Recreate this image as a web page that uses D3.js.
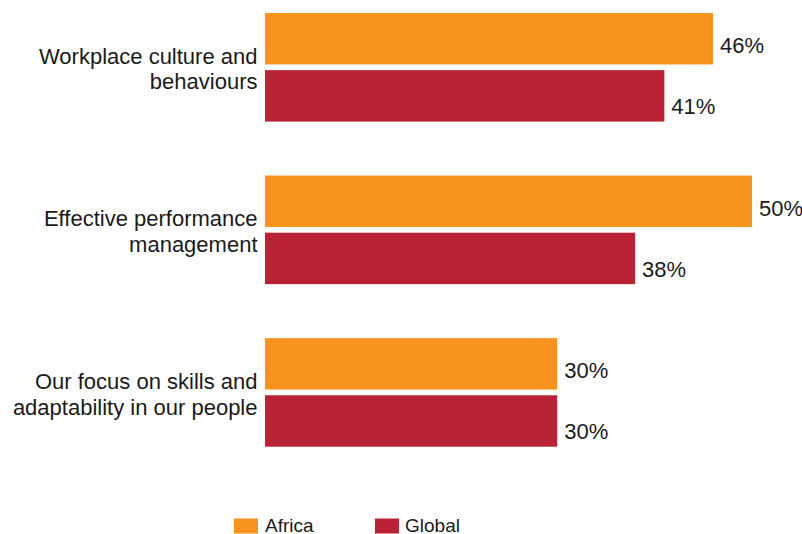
<!DOCTYPE html>
<html>
<head>
<meta charset="utf-8">
<script src="https://cdn.jsdelivr.net/npm/d3@7"></script>
<style>
  html, body { margin: 0; padding: 0; background: #ffffff; }
  svg { display: block; font-family: "Liberation Sans", Arial, Helvetica, sans-serif; }
</style>
</head>
<body>
<svg id="chart" width="802" height="534"></svg>
<script>
// Survey categories (each label split over two lines)
const categories = [
  "Workplace culture and behaviours",
  "Effective performance management",
  "Our focus on skills and adaptability in our people"
];
const categoryLines = [
  ["Workplace culture and", "behaviours"],
  ["Effective performance", "management"],
  ["Our focus on skills and", "adaptability in our people"]
];
const seriesNames = ["Africa", "Global"];
const africaValues = [46, 50, 30];
const globalValues = [41, 38, 30];
const seriesColors = ["#F7931E", "#B82234"];

const valuesBySeries = [africaValues, globalValues];

const svg = d3.select("#chart");

const x = d3.scaleLinear().domain([0, 50]).range([265, 752]);

const y0 = d3.scaleBand()
  .domain(categories)
  .range([13, 446.7])
  .paddingInner(0.332)
  .paddingOuter(0);

const y1 = d3.scaleBand()
  .domain(seriesNames)
  .range([0, y0.bandwidth()])
  .paddingInner(0.1);

const color = d3.scaleOrdinal().domain(seriesNames).range(seriesColors);

const rows = categories.map((c, i) => ({
  category: c,
  lines: categoryLines[i],
  items: seriesNames.map((s, j) => ({ series: s, value: valuesBySeries[j][i] }))
}));

const group = svg.selectAll("g.group")
  .data(rows)
  .join("g")
  .attr("class", "group")
  .attr("transform", d => `translate(0,${y0(d.category)})`);

// Bars
group.selectAll("rect")
  .data(d => d.items)
  .join("rect")
  .attr("x", x(0))
  .attr("y", d => y1(d.series))
  .attr("width", d => x(d.value) - x(0))
  .attr("height", y1.bandwidth())
  .attr("fill", d => color(d.series));

// Value labels beside each bar
const labelOffset = { Africa: 14.5, Global: 18.5 };
group.selectAll("text.value")
  .data(d => d.items)
  .join("text")
  .attr("class", "value")
  .attr("x", d => x(d.value) + 7)
  .attr("y", d => y1(d.series) + y1.bandwidth() / 2 + labelOffset[d.series])
  .attr("font-size", 22)
  .attr("fill", "#1a1a1a")
  .text(d => d.value + "%");

// Category labels, right-aligned against the bars
group.append("text")
  .attr("class", "category")
  .attr("text-anchor", "end")
  .attr("font-size", 22)
  .attr("fill", "#1a1a1a")
  .selectAll("tspan")
  .data(d => d.lines)
  .join("tspan")
  .attr("x", 257.5)
  .attr("y", (d, i) => y0.bandwidth() / 2 - 3.5 + i * 25.7)
  .text(d => d);

// Legend
const legendX = [234, 375];
const legend = svg.selectAll("g.legend")
  .data(seriesNames)
  .join("g")
  .attr("class", "legend")
  .attr("transform", (d, i) => `translate(${legendX[i]},518.5)`);

legend.append("rect")
  .attr("width", 24)
  .attr("height", 15)
  .attr("fill", d => color(d));

legend.append("text")
  .attr("x", d => d === "Africa" ? 31 : 30)
  .attr("y", 13.5)
  .attr("font-size", 19)
  .attr("fill", "#1a1a1a")
  .text(d => d);
</script>
</body>
</html>
